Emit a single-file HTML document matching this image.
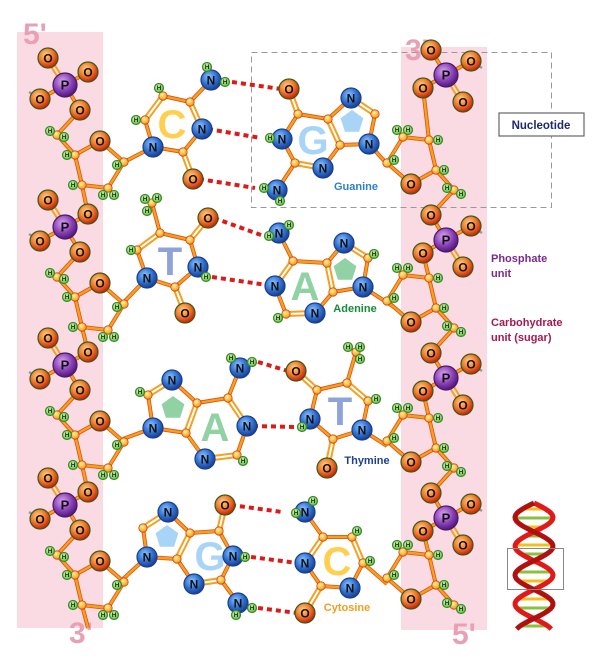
<!DOCTYPE html>
<html><head><meta charset="utf-8"><style>
html,body{margin:0;padding:0;background:#fff}
svg{display:block}
text{font-family:"Liberation Sans",Arial,sans-serif;font-weight:bold}
</style></head><body>
<svg id="s" width="600" height="663" viewBox="0 0 600 663" xmlns="http://www.w3.org/2000/svg">
<defs>
<radialGradient id="gO" cx="40%" cy="35%" r="65%"><stop offset="0" stop-color="#ffd08a"/><stop offset="0.55" stop-color="#f07a2a"/><stop offset="1" stop-color="#c8200a"/></radialGradient>
<radialGradient id="gN" cx="40%" cy="35%" r="65%"><stop offset="0" stop-color="#8cc4ff"/><stop offset="0.6" stop-color="#2f6fd0"/><stop offset="1" stop-color="#1a3f8f"/></radialGradient>
<radialGradient id="gP" cx="40%" cy="35%" r="65%"><stop offset="0" stop-color="#d8a8f0"/><stop offset="0.6" stop-color="#8a40b8"/><stop offset="1" stop-color="#4f1a78"/></radialGradient>
<radialGradient id="gH" cx="40%" cy="35%" r="65%"><stop offset="0" stop-color="#d8ffb8"/><stop offset="1" stop-color="#5cbf3a"/></radialGradient>
<radialGradient id="gC" cx="40%" cy="35%" r="65%"><stop offset="0" stop-color="#fff09a"/><stop offset="1" stop-color="#f59a10"/></radialGradient>
</defs>
<rect x="17" y="32" width="86" height="596" fill="#fadbe4"/>
<rect x="401" y="47" width="86" height="583" fill="#fadbe4"/>
<text x="23" y="44" font-size="30" fill="#e8a0b4">5'</text>
<text x="405" y="60" font-size="30" fill="#e8a0b4">3'</text>
<text x="69" y="643" font-size="30" fill="#e8a0b4">3'</text>
<text x="452" y="644" font-size="30" fill="#e8a0b4">5'</text>
<rect x="251.5" y="52.5" width="300" height="155" fill="none" stroke="#999" stroke-dasharray="6,4"/>
<rect x="499" y="113" width="85" height="23" fill="#fff" stroke="#666" stroke-width="1.2"/>
<text x="541" y="129" font-size="11.5" fill="#1f2a6a" text-anchor="middle">Nucleotide</text>
<text x="491" y="262" font-size="11" fill="#7a2a8f">Phosphate</text>
<text x="491" y="277" font-size="11" fill="#7a2a8f">unit</text>
<text x="491" y="326" font-size="11" fill="#a8184f">Carbohydrate</text>
<text x="491" y="341" font-size="11" fill="#a8184f">unit (sugar)</text>
<g id="letters"></g>
<g id="hb"></g>
<g id="bonds"></g>
<g id="atoms"></g>
<g id="labels">
<text x="356" y="190" font-size="11" fill="#2f80c8" text-anchor="middle">Guanine</text>
<text x="355" y="312" font-size="11" fill="#1a8a3a" text-anchor="middle">Adenine</text>
<text x="367" y="464" font-size="11" fill="#1f3f8f" text-anchor="middle">Thymine</text>
<text x="347" y="611" font-size="11" fill="#f0a020" text-anchor="middle">Cytosine</text>
</g>
<g id="helix"></g>
</svg>
<script>
const NS='http://www.w3.org/2000/svg';
const G=id=>document.getElementById(id);
function mk(tag,attrs,parent){const e=document.createElementNS(NS,tag);for(const k in attrs)e.setAttribute(k,attrs[k]);parent.appendChild(e);return e;}

// Strand anchor positions (phosphorus atoms)
const leftP=[85,227,365,505];
const leftX=65;
const rightP=[75,240,378,518,655];
const rightX=446;

// Base atoms: [x,y,type]
const cytosineL={N1:[153,147,'N'],C2:[183,152,'C'],O2:[193,179,'O'],N3:[202,129,'N'],C4:[190,102,'C'],N4:[211,80,'N'],Ha:[207,67,'H'],Hb:[225,82,'H'],C5:[163,96,'C'],H5:[159,88,'H'],C6:[145,120,'C'],H6:[136,120,'H'],S:[124,162,'X']};
const cytosineB=[['N1','C2'],['C2','O2',2],['C2','N3'],['N3','C4',2],['C4','N4'],['C4','C5'],['C5','C6',2],['C6','N1'],['N1','S']];
const guanineR={O6:[289,89,'O'],C6:[298,114,'C'],C5:[328,119,'C'],N7:[351,98,'N'],C8:[375,114,'C'],N9:[369,144,'N'],C4:[340,145,'C'],N3:[323,168,'N'],C2:[295,163,'C'],N1:[282,139,'N'],H1:[270,138,'H'],N2:[277,190,'N'],Ha:[264,188,'H'],Hb:[280,201,'H'],S:[388,165,'X']};
const purineB=[['O6','C6',2],['C6','C5'],['C5','N7'],['N7','C8',2],['C8','N9'],['N9','C4'],['C4','C5',2],['C4','N3'],['N3','C2',2],['C2','N1'],['N1','C6'],['C2','N2'],['N9','S']];
const adenineR={N6:[279,233,'N'],Ha:[269,236,'H'],Hb:[289,225,'H'],C6:[293,261,'C'],N1:[275,286,'N'],C2:[286,314,'C'],H2:[278,318,'H'],N3:[315,313,'N'],C4:[333,292,'C'],C5:[327,263,'C'],N7:[344,243,'N'],C8:[368,258,'C'],H8:[374,254,'H'],N9:[363,287,'N'],S:[394,307,'X']};
const adenineB=[['N6','C6'],['C6','N1',2],['N1','C2'],['C2','N3',2],['N3','C4'],['C4','C5',2],['C5','C6'],['C5','N7'],['N7','C8',2],['C8','N9'],['N9','C4'],['N9','S']];
const thymineL={O4:[208,218,'O'],C4:[190,240,'C'],N3:[198,267,'N'],H3:[206,277,'H'],C2:[175,287,'C'],O2:[185,313,'O'],N1:[147,278,'N'],C6:[137,250,'C'],H6:[131,250,'H'],C5:[160,233,'C'],M:[152,203,'C'],Ma:[145,199,'H'],Mb:[157,198,'H'],Mc:[147,211,'H'],S:[124,302,'X']};
const thymineB=[['O4','C4',2],['C4','N3'],['N3','C2'],['C2','O2',2],['C2','N1'],['N1','C6'],['C6','C5',2],['C5','C4'],['C5','M'],['N1','S']];
const adenineL={N6:[240,368,'N'],Ha:[231,358,'H'],Hb:[252,362,'H'],C6:[228,398,'C'],N1:[247,426,'N'],C2:[237,455,'C'],H2:[243,461,'H'],N3:[205,459,'N'],C4:[186,433,'C'],C5:[197,403,'C'],N7:[172,380,'N'],C8:[148,395,'C'],H8:[140,392,'H'],N9:[153,428,'N'],S:[123,439,'X']};
const thymineR={O4:[296,371,'O'],C4:[317,390,'C'],N3:[310,419,'N'],H3:[302,427,'H'],C2:[333,439,'C'],O2:[327,468,'O'],N1:[362,430,'N'],C6:[368,401,'C'],H6:[376,399,'H'],C5:[347,383,'C'],M:[356,352,'C'],Ma:[348,347,'H'],Mb:[360,347,'H'],Mc:[360,359,'H'],S:[387,446,'X']};
const guanineL={O6:[225,505,'O'],C6:[219,531,'C'],C5:[190,533,'C'],N7:[168,512,'N'],C8:[143,528,'C'],N9:[147,557,'N'],C4:[177,559,'C'],N3:[194,584,'N'],C2:[221,580,'C'],N1:[233,556,'N'],H1:[245,557,'H'],N2:[238,603,'N'],Ha:[252,608,'H'],Hb:[236,615,'H'],S:[123,579,'X']};
const cytosineR={N4:[305,512,'N'],Ha:[313,501,'H'],Hb:[296,513,'H'],C4:[323,537,'C'],C5:[352,537,'C'],H5:[357,531,'H'],C6:[363,563,'C'],H6:[370,561,'H'],N1:[350,588,'N'],C2:[321,586,'C'],O2:[305,613,'O'],N3:[305,563,'N'],S:[387,584,'X']};
const cytosineRB=[['N4','C4'],['C4','C5'],['C5','C6',2],['C6','N1'],['N1','C2'],['C2','O2',2],['C2','N3'],['N3','C4',2],['C6','S']];

// Hydrogen bonds: [x1,y1,x2,y2]
const hbonds=[[226,82,289,89],[202,129,269,138],[193,179,263,188],[208,218,269,235],[206,277,275,285],[252,362,296,371],[247,426,303,427],[225,505,290,512],[245,557,305,563],[252,608,305,613]];

// Letters: [char,x,y,color]
const letters=[['C',172,138,'#ffd050'],['G',313,154,'#a8d4f6'],['T',170,275,'#8fa3da'],['A',305,300,'#90d2a4'],['A',215,441,'#90d2a4'],['T',340,425,'#8fa3da'],['G',210,570,'#a8d4f6'],['C',337,575,'#ffd050']];
const pentagons=[[352,122,'#a8d4f6'],[345,270,'#90d2a4'],[173,408,'#90d2a4'],[167,537,'#a8d4f6']];

function bond(x1,y1,x2,y2,dbl,blue){
  const col=blue?'#4a8ad8':'#f5a020';
  if(dbl){
    const dx=x2-x1,dy=y2-y1,l=Math.hypot(dx,dy)||1,nx=-dy/l*2,ny=dx/l*2;
    for(const s of [-1,1]){const e=mk('line',{x1:x1+nx*s,y1:y1+ny*s,x2:x2+nx*s,y2:y2+ny*s,stroke:col,'stroke-width':2},G('bonds'));
    
    }
  } else {
    const e0=mk('line',{x1,y1,x2,y2,stroke:'#e05010','stroke-width':4},G('bonds'));
    
    
    const e=mk('line',{x1,y1,x2,y2,stroke:col,'stroke-width':2.4},G('bonds'));
    
    
  }
}
const R={O:10,N:10,P:12,H:4.5,C:4.2};
function atom(x,y,t){
  if(t==='X')return;
  const g=mk('g',{},G('atoms'));
  
  
  const fill={O:'url(#gO)',N:'url(#gN)',P:'url(#gP)',H:'url(#gH)',C:'url(#gC)'}[t];
  const stroke={O:'#3a5a1a',N:'#1a3f8f',P:'#4a1a6a',H:'#3a8a2a',C:'#d04010'}[t];
  mk('circle',{cx:x,cy:y,r:R[t],fill,stroke,'stroke-width':t==='C'?0.8:1.2},g);
  if(t==='C')return;
  const fs={O:12,N:12,P:13,H:6}[t];
  const tx=mk('text',{x,y:y+fs*0.36,'font-size':fs,'text-anchor':'middle',fill:'#111'},g);
  tx.textContent=t;
}
function drawBase(A,B,blue){
  for(const b of B){const p=A[b[0]],q=A[b[1]];bond(p[0],p[1],q[0],q[1],b[2]===2,false);}
  for(const k in A)atom(A[k][0],A[k][1],A[k][2]);
}
// sugar-phosphate unit (relative to P), rotated by s=-1 for right strand
const unitAtoms={P:[0,0,'P'],Ot:[-17,-27,'O'],Or:[23,-13,'O'],Ol:[-25,14,'O'],Ob:[15,25,'O'],C5:[-8,50,'C'],H5a:[-15,46,'H'],H5b:[-1,52,'H'],C4:[10,70,'C'],H4:[2,70,'H'],O4:[35,56,'O'],C1:[59,77,'C'],H1:[52,80,'H'],C3:[17,100,'C'],H3:[8,100,'H'],C2:[43,103,'C'],H2a:[38,110,'H'],H2b:[49,110,'H']};
const phosB=[['P','Ot',2],['P','Or'],['P','Ol'],['P','Ob']];
const sugarB=[['Ob','C5'],['C5','C4'],['C4','O4'],['O4','C1'],['C1','C2'],['C2','C3'],['C3','C4']];
function unit(px,py,s,phos,sugar,linkY){
  const pt=k=>[px+s*unitAtoms[k][0],py+s*unitAtoms[k][1]];
  const keys=[];
  if(phos){keys.push('P','Ot','Or','Ol','Ob');for(const b of phosB){const p=pt(b[0]),q=pt(b[1]);bond(p[0],p[1],q[0],q[1],b[2]===2);}
    const o=pt('Ol');const st=mk('line',{x1:o[0],y1:o[1],x2:o[0]-s*11,y2:o[1]-s*7,stroke:'#999','stroke-width':2.5},G('bonds'));
    
    }
  if(sugar){
    for(const b of sugarB){if(!phos&&b[0]==='Ob')continue;const p=pt(b[0]),q=pt(b[1]);bond(p[0],p[1],q[0],q[1]);}
    const c3=pt('C3');bond(c3[0],c3[1],px+s*23,linkY);
    keys.push('C5','H5a','H5b','C4','H4','O4','C1','H1','C3','H3','C2','H2a','H2b');
  }
  for(const k of keys){const p=pt(k);atom(p[0],p[1],unitAtoms[k][2]);}
  if(sugar)return pt('C1');
}
// letters & pentagons
for(const l of letters){const t=mk('text',{x:l[1],y:l[2],'font-size':40,'font-weight':'bold','text-anchor':'middle',fill:l[3]},G('letters'));t.textContent=l[0];
  
  }
for(const p of pentagons){let d='';for(let i=0;i<5;i++){const a=-Math.PI/2+i*2*Math.PI/5;d+=(i?'L':'M')+(p[0]+12*Math.cos(a)).toFixed(1)+','+(p[1]+12*Math.sin(a)).toFixed(1);}
  const e=mk('path',{d:d+'Z',fill:p[2]},G('letters'));
  
  }
for(const h of hbonds){const e=mk('line',{x1:h[0]+6,y1:h[1],x2:h[2]-8,y2:h[3],stroke:'#dd1a1a','stroke-width':4,'stroke-dasharray':'5,4'},G('hb'));
  
  }
// strands
leftP.forEach((py,i)=>{const next=i+1<leftP.length?leftP[i+1]-13:628;unit(leftX,py,1,true,true,next);});
rightP.forEach((py,i)=>{const prev=i>0?rightP[i-1]+13:60;unit(rightX,py,-1,i<rightP.length-1,i>0,prev);});
// bases
drawBase(cytosineL,cytosineB);drawBase(guanineR,purineB);drawBase(thymineL,thymineB);drawBase(adenineR,adenineB);
drawBase(adenineL,adenineB);drawBase(thymineR,thymineB);drawBase(guanineL,purineB);drawBase(cytosineR,cytosineRB);
// helix icon
(function(){const g=G('helix');const cx=534,y0=503,y1=630,A=19;
  for(let y=y0+6;y<y1;y+=9){const ph=(y-y0)/(y1-y0)*Math.PI*4.4;const xa=cx+A*Math.sin(ph),xb=cx-A*Math.sin(ph);
    const r=mk('line',{x1:xa,y1:y,x2:xb,y2:y,stroke:(Math.round(y/9)%2)?'#f0c020':'#8ac040','stroke-width':3},g);
    
    }
  for(const s of [1,-1]){let d='';for(let y=y0;y<=y1;y+=2){const ph=(y-y0)/(y1-y0)*Math.PI*4.4;d+=(y===y0?'M':'L')+(cx+s*A*Math.sin(ph)).toFixed(1)+','+y;}
    const p=mk('path',{d,fill:'none',stroke:s>0?'#e01a1a':'#b01010','stroke-width':5},g);
    
    }
  const r=mk('rect',{x:507.5,y:548.5,width:56,height:41,fill:'none',stroke:'#888','stroke-width':1},g);
  
  
})();
</script>
</body></html>
